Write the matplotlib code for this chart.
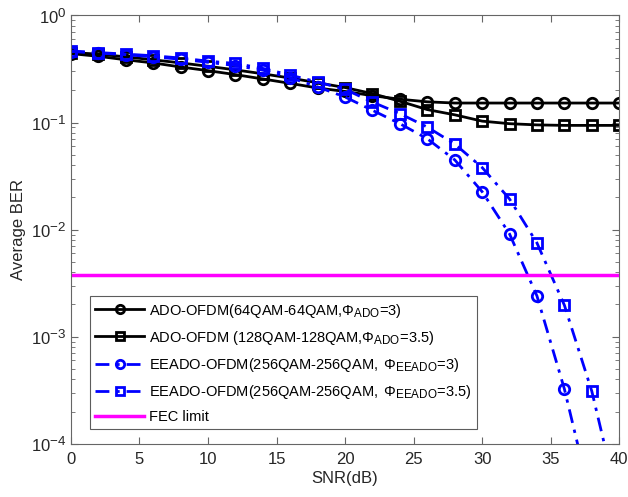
import matplotlib

matplotlib.use("Agg")
import matplotlib._mathtext as mathtext_internals
import matplotlib.pyplot as plt
import numpy as np

plt.rcParams["font.family"] = ["Liberation Sans", "DejaVu Sans"]
plt.rcParams["mathtext.fontset"] = "custom"
plt.rcParams["mathtext.rm"] = "Liberation Sans"
plt.rcParams["mathtext.it"] = "Liberation Sans"
plt.rcParams["mathtext.bf"] = "Liberation Sans:bold"
# MATLAB tex subscripts are a bit bigger than mathtext's default
mathtext_internals.SHRINK_FACTOR = 0.8

snr = np.arange(0, 41, 2)

ber_ado_64 = [0.44, 0.415, 0.385, 0.36, 0.33, 0.305, 0.28, 0.255, 0.232, 0.21, 0.195,
              0.178, 0.165, 0.156, 0.152, 0.152, 0.152, 0.152, 0.152, 0.152, 0.152]
ber_ado_128 = [0.45, 0.435, 0.41, 0.385, 0.36, 0.335, 0.31, 0.285, 0.26, 0.235, 0.212,
               0.186, 0.158, 0.132, 0.118, 0.103, 0.0975, 0.095, 0.094, 0.094, 0.094]
ber_eeado_3 = [0.46, 0.445, 0.43, 0.41, 0.39, 0.365, 0.34, 0.308, 0.262, 0.215, 0.173,
               0.13, 0.0975, 0.0705, 0.0448, 0.0226, 0.0091, 0.0024, 3.25e-4, 2.8e-5, 2.0e-6]
ber_eeado_35 = [0.465, 0.45, 0.435, 0.42, 0.40, 0.374, 0.356, 0.32, 0.277, 0.239, 0.204,
                0.155, 0.121, 0.0906, 0.063, 0.038, 0.0193, 0.0075, 0.00197, 3.1e-4, 2.6e-5]
fec_limit = 3.8e-3

labels = [
    r"ADO-OFDM(64QAM-64QAM,$\Phi_{\mathrm{ADO}}$=3)",
    r"ADO-OFDM (128QAM-128QAM,$\Phi_{\mathrm{ADO}}$=3.5)",
    r"EEADO-OFDM(256QAM-256QAM, $\,\Phi_{\mathrm{EEADO}}$=3)",
    r"EEADO-OFDM(256QAM-256QAM, $\,\Phi_{\mathrm{EEADO}}$=3.5)",
    "FEC limit",
]

fig = plt.figure(figsize=(6.28, 4.97), dpi=100)
ax = fig.add_axes([0.113, 0.107, 0.873, 0.862])

dashdot = (0, (5, 2.5, 1.2, 2.5))
common = dict(linewidth=2, markersize=7.5, markeredgewidth=2, markerfacecolor="none")
ax.semilogy(snr, ber_ado_64, "-", marker="o", color="black", label=labels[0], **common)
ax.semilogy(snr, ber_ado_128, "-", marker="s", color="black", label=labels[1], **common)
ax.semilogy(snr, ber_eeado_3, linestyle=dashdot, marker="o", color="#0000ff", label=labels[2], **common)
ax.semilogy(snr, ber_eeado_35, linestyle=dashdot, marker="s", color="#0000ff", label=labels[3], **common)
ax.axhline(fec_limit, color="#ff00ff", linewidth=2.5, label=labels[4])

ax.set_xlim(0, 40)
ax.set_ylim(1e-4, 1)
ax.set_xticks(np.arange(0, 41, 5))
ax.set_xlabel("SNR(dB)", fontsize=12, color="#262626", labelpad=3)
ax.set_ylabel("Average BER", fontsize=12, color="#262626", labelpad=3)

for side in ax.spines.values():
    side.set_color("#666666")
    side.set_linewidth(0.8)
ax.tick_params(which="both", direction="in", top=True, right=True, colors="#666666",
               labelcolor="#262626", labelsize=12)
ax.tick_params(axis="x", which="major", pad=6)
ax.tick_params(which="major", length=5)
ax.tick_params(which="minor", length=3)

leg = ax.legend(loc="lower left", bbox_to_anchor=(0.034, 0.035), fontsize=10.5,
                frameon=True, fancybox=False, edgecolor="#333333", handlelength=3.4,
                borderpad=0.35, labelspacing=0.62, handletextpad=0.35, borderaxespad=0,
                markerscale=0.8)
leg.get_frame().set_linewidth(0.8)

fig.savefig("out.png", dpi=100)
